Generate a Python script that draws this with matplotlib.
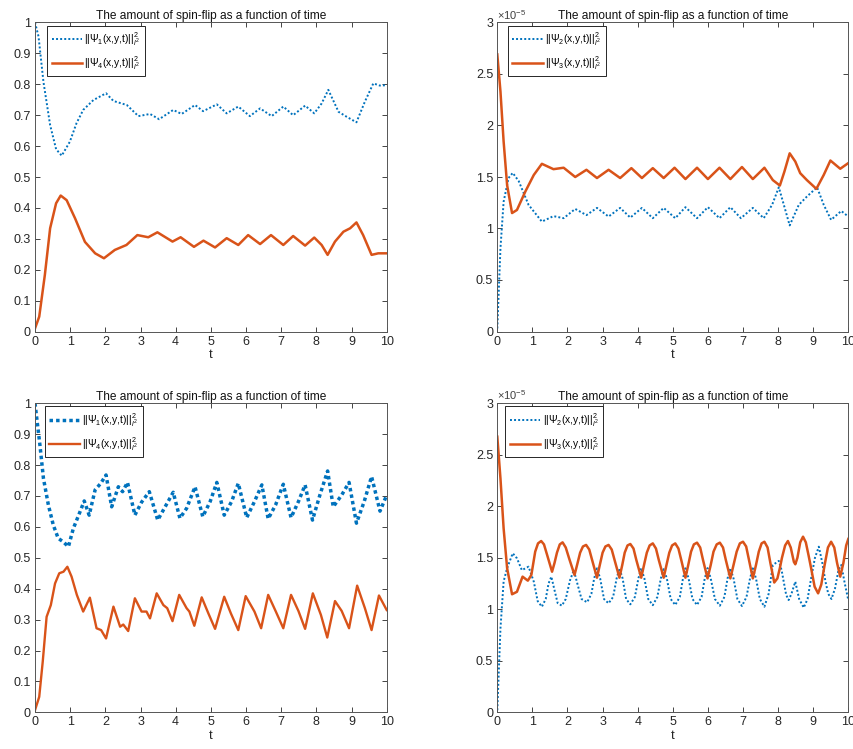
import matplotlib
matplotlib.use("Agg")
import matplotlib.pyplot as plt
from matplotlib.ticker import FuncFormatter
import numpy as np

plt.rcParams['font.family'] = ['Liberation Sans', 'DejaVu Sans']
plt.rcParams['mathtext.fontset'] = 'custom'
plt.rcParams['mathtext.rm'] = 'Liberation Sans'
plt.rcParams['mathtext.it'] = 'Liberation Sans:italic'
plt.rcParams['mathtext.bf'] = 'Liberation Sans:bold'

BLUE = '#0072BD'
ORANGE = '#D95319'
TITLE = 'The amount of spin-flip as a function of time'

# ---- panel A (top left): psi1 / psi4 ----
t_a1 = [0, 0.1, 0.24, 0.43, 0.6, 0.76, 0.99, 1.18, 1.37, 1.66, 2.02, 2.23, 2.61, 2.94, 3.27, 3.53,
        3.93, 4.17, 4.55, 4.78, 5.17, 5.45, 5.78, 6.11, 6.4, 6.73, 7.06, 7.34, 7.68, 7.94, 8.15,
        8.34, 8.63, 8.86, 9.14, 9.38, 9.62, 9.8, 10]
psi1_a = [1.0, 0.955, 0.808, 0.668, 0.59, 0.569, 0.614, 0.674, 0.717, 0.749, 0.771, 0.746, 0.733,
          0.697, 0.704, 0.687, 0.717, 0.704, 0.733, 0.713, 0.735, 0.706, 0.728, 0.697, 0.722, 0.697,
          0.728, 0.700, 0.731, 0.706, 0.738, 0.782, 0.711, 0.695, 0.677, 0.744, 0.803, 0.796, 0.797]
t_a4 = [0, 0.12, 0.28, 0.43, 0.6, 0.73, 0.9, 1.14, 1.42, 1.71, 1.96, 2.27, 2.6, 2.91, 3.22, 3.48,
        3.91, 4.14, 4.52, 4.79, 5.12, 5.45, 5.78, 6.06, 6.4, 6.71, 7.06, 7.34, 7.68, 7.94, 8.15,
        8.32, 8.53, 8.77, 8.96, 9.14, 9.33, 9.57, 9.76, 10]
psi4_a = [0.01, 0.048, 0.183, 0.334, 0.415, 0.44, 0.425, 0.366, 0.29, 0.253, 0.237, 0.264, 0.28,
          0.312, 0.305, 0.321, 0.291, 0.305, 0.274, 0.294, 0.272, 0.302, 0.28, 0.312, 0.283, 0.312,
          0.28, 0.309, 0.278, 0.304, 0.28, 0.248, 0.291, 0.323, 0.334, 0.353, 0.312, 0.248, 0.253, 0.253]

# ---- panel B (top right): psi2 / psi3, in units of 1e-5 ----
t_b2 = [0, 0.09, 0.18, 0.32, 0.44, 0.61, 0.89, 1.27, 1.6, 1.89, 2.22, 2.54, 2.84, 3.17, 3.5, 3.79,
        4.12, 4.43, 4.74, 5.07, 5.36, 5.69, 6.0, 6.33, 6.64, 6.94, 7.28, 7.59, 7.83, 8.02, 8.18,
        8.33, 8.59, 8.82, 9.11, 9.3, 9.51, 9.8, 10]
psi2_b = [0.03, 0.81, 1.26, 1.49, 1.54, 1.46, 1.23, 1.067, 1.12, 1.1, 1.19, 1.13, 1.2, 1.116, 1.2,
          1.106, 1.2, 1.1, 1.2, 1.1, 1.207, 1.1, 1.207, 1.1, 1.207, 1.1, 1.2, 1.1, 1.23, 1.4, 1.21,
          1.03, 1.23, 1.31, 1.4, 1.23, 1.084, 1.17, 1.116]
t_b3 = [0, 0.09, 0.18, 0.28, 0.42, 0.56, 0.8, 1.04, 1.27, 1.6, 1.89, 2.22, 2.54, 2.84, 3.17, 3.5,
        3.82, 4.12, 4.43, 4.74, 5.05, 5.36, 5.69, 6.0, 6.33, 6.64, 6.97, 7.28, 7.61, 7.85, 8.05,
        8.18, 8.33, 8.49, 8.63, 8.82, 9.09, 9.3, 9.49, 9.77, 10]
psi3_b = [2.69, 2.33, 1.845, 1.42, 1.15, 1.18, 1.36, 1.52, 1.628, 1.576, 1.59, 1.5, 1.57, 1.49,
          1.57, 1.49, 1.586, 1.49, 1.586, 1.49, 1.59, 1.48, 1.59, 1.48, 1.59, 1.48, 1.597, 1.48,
          1.59, 1.47, 1.417, 1.553, 1.73, 1.65, 1.537, 1.47, 1.385, 1.52, 1.66, 1.58, 1.635]

# ---- panel C (bottom left): psi1 / psi4 ----
t_c1 = [0, 0.14, 0.24, 0.38, 0.52, 0.66, 0.8, 0.95, 1.09, 1.28, 1.4, 1.54, 1.71, 1.87, 2.02, 2.18,
        2.37, 2.49, 2.63, 2.84, 3.03, 3.25, 3.49, 3.7, 3.93, 4.12, 4.31, 4.55, 4.77, 4.98, 5.17,
        5.38, 5.59, 5.78, 6.02, 6.24, 6.45, 6.63, 6.84, 7.06, 7.28, 7.49, 7.68, 7.89, 8.1, 8.32,
        8.48, 8.72, 8.93, 9.14, 9.36, 9.57, 9.81, 10]
psi1_c = [1.0, 0.865, 0.757, 0.671, 0.606, 0.563, 0.552, 0.536, 0.595, 0.649, 0.684, 0.638, 0.72,
          0.741, 0.768, 0.665, 0.73, 0.714, 0.744, 0.638, 0.68, 0.714, 0.622, 0.665, 0.712, 0.628,
          0.66, 0.73, 0.633, 0.682, 0.744, 0.638, 0.682, 0.741, 0.63, 0.682, 0.736, 0.626, 0.671,
          0.738, 0.63, 0.682, 0.736, 0.622, 0.703, 0.781, 0.665, 0.703, 0.744, 0.612, 0.682, 0.763,
          0.651, 0.703]
t_c4 = [0, 0.12, 0.22, 0.33, 0.45, 0.57, 0.69, 0.81, 0.92, 1.04, 1.19, 1.37, 1.56, 1.75, 1.88,
        2.02, 2.23, 2.42, 2.51, 2.65, 2.84, 3.03, 3.17, 3.27, 3.46, 3.65, 3.76, 3.91, 4.1, 4.31,
        4.39, 4.53, 4.74, 4.93, 5.12, 5.38, 5.57, 5.78, 5.99, 6.24, 6.43, 6.63, 6.84, 7.06, 7.28,
        7.49, 7.68, 7.9, 8.13, 8.31, 8.53, 8.72, 8.93, 9.16, 9.38, 9.57, 9.78, 10]
psi4_c = [0.007, 0.05, 0.164, 0.309, 0.347, 0.417, 0.45, 0.455, 0.471, 0.439, 0.38, 0.326, 0.371,
          0.272, 0.266, 0.239, 0.342, 0.277, 0.284, 0.263, 0.369, 0.326, 0.326, 0.304, 0.385,
          0.347, 0.337, 0.295, 0.38, 0.337, 0.326, 0.28, 0.372, 0.32, 0.27, 0.374, 0.32, 0.266,
          0.376, 0.326, 0.272, 0.38, 0.328, 0.272, 0.38, 0.328, 0.27, 0.385, 0.315, 0.242, 0.36,
          0.328, 0.272, 0.41, 0.337, 0.266, 0.378, 0.331]

# ---- panel D (bottom right): psi2 / psi3, in units of 1e-5 ----
t_d2 = [0, 0.09, 0.18, 0.28, 0.44, 0.56, 0.7, 0.89, 1.04, 1.15, 1.27, 1.38, 1.46, 1.54, 1.62, 1.72,
        1.84, 1.95, 2.07, 2.18, 2.28, 2.4, 2.56, 2.68, 2.76, 2.84, 2.93, 3.04, 3.17, 3.3, 3.4, 3.48,
        3.57, 3.67, 3.79, 3.92, 4.02, 4.1, 4.19, 4.3, 4.43, 4.56, 4.66, 4.74, 4.83, 4.94, 5.07,
        5.2, 5.29, 5.36, 5.45, 5.56, 5.69, 5.82, 5.91, 5.99, 6.08, 6.2, 6.34, 6.47, 6.56, 6.64,
        6.73, 6.84, 6.97, 7.1, 7.2, 7.28, 7.37, 7.48, 7.61, 7.73, 7.85, 8.02, 8.1, 8.16, 8.23, 8.3,
        8.38, 8.49, 8.6, 8.73, 8.84, 8.94, 9.05, 9.16, 9.26, 9.35, 9.43, 9.52, 9.62, 9.72, 9.8,
        9.9, 10]
psi2_d = [0.02, 0.815, 1.27, 1.4, 1.544, 1.495, 1.38, 1.414, 1.268, 1.08, 1.025, 1.1, 1.25, 1.317,
          1.2, 1.06, 1.035, 1.1, 1.28, 1.38, 1.25, 1.1, 1.068, 1.15, 1.3, 1.398, 1.3, 1.1, 1.058,
          1.12, 1.3, 1.398, 1.3, 1.1, 1.048, 1.12, 1.3, 1.398, 1.3, 1.1, 1.04, 1.12, 1.3, 1.39,
          1.3, 1.1, 1.042, 1.12, 1.3, 1.398, 1.3, 1.1, 1.042, 1.12, 1.3, 1.4, 1.3, 1.1, 1.035,
          1.12, 1.3, 1.398, 1.3, 1.1, 1.032, 1.12, 1.3, 1.398, 1.3, 1.1, 1.025, 1.15, 1.43, 1.47,
          1.38, 1.268, 1.14, 1.09, 1.15, 1.268, 1.1, 1.016, 1.1, 1.3, 1.5, 1.608, 1.45, 1.268,
          1.15, 1.1, 1.2, 1.38, 1.43, 1.25, 1.09]
t_d3 = [0, 0.09, 0.18, 0.28, 0.42, 0.56, 0.72, 0.87, 0.97, 1.08, 1.16, 1.25, 1.33, 1.42, 1.56,
        1.63, 1.7, 1.78, 1.86, 1.95, 2.05, 2.2, 2.28, 2.36, 2.44, 2.53, 2.62, 2.7, 2.84, 2.92, 3.0,
        3.08, 3.17, 3.26, 3.34, 3.48, 3.56, 3.63, 3.71, 3.79, 3.88, 3.96, 4.1, 4.18, 4.26, 4.34,
        4.43, 4.52, 4.6, 4.74, 4.82, 4.9, 4.98, 5.07, 5.16, 5.24, 5.36, 5.44, 5.52, 5.6, 5.69,
        5.78, 5.86, 5.99, 6.08, 6.16, 6.25, 6.34, 6.43, 6.51, 6.64, 6.73, 6.82, 6.91, 7.0, 7.09,
        7.17, 7.28, 7.37, 7.45, 7.53, 7.61, 7.7, 7.78, 7.89, 7.98, 8.05, 8.11, 8.2, 8.28, 8.36,
        8.45, 8.49, 8.55, 8.63, 8.71, 8.79, 8.87, 8.94, 9.04, 9.14, 9.23, 9.32, 9.42, 9.51, 9.6,
        9.68, 9.77, 9.86, 9.94, 10]
psi3_d = [2.676, 2.27, 1.786, 1.398, 1.146, 1.17, 1.317, 1.278, 1.333, 1.56, 1.64, 1.663, 1.63,
          1.527, 1.365, 1.45, 1.55, 1.63, 1.65, 1.6, 1.49, 1.333, 1.44, 1.55, 1.61, 1.625, 1.58,
          1.48, 1.307, 1.43, 1.55, 1.61, 1.625, 1.58, 1.48, 1.307, 1.43, 1.55, 1.62, 1.634, 1.59,
          1.48, 1.307, 1.43, 1.55, 1.62, 1.64, 1.59, 1.48, 1.307, 1.43, 1.55, 1.62, 1.64, 1.59,
          1.48, 1.307, 1.43, 1.56, 1.63, 1.647, 1.6, 1.48, 1.3, 1.43, 1.56, 1.63, 1.647, 1.6, 1.48,
          1.3, 1.43, 1.56, 1.64, 1.656, 1.61, 1.48, 1.3, 1.43, 1.56, 1.64, 1.656, 1.6, 1.45, 1.26,
          1.3, 1.4, 1.5, 1.62, 1.663, 1.6, 1.46, 1.437, 1.5, 1.65, 1.705, 1.65, 1.52, 1.4, 1.22,
          1.155, 1.24, 1.42, 1.6, 1.656, 1.6, 1.45, 1.317, 1.45, 1.62, 1.683]

SCALE = 1e-5


def lbl(k):
    return r'$||\Psi_%d\mathrm{(x{,}y{,}t)}||_{l^2}^{2}$' % k


def setup_axes(ax, ymax, ystep, scaled):
    ax.set_xlim(0, 10)
    ax.set_ylim(0, ymax)
    ax.set_xticks(np.arange(0, 11, 1))
    ax.set_yticks(np.arange(0, ymax + ystep / 2, ystep))
    if scaled:
        ax.yaxis.set_major_formatter(FuncFormatter(lambda v, _: f'{v / SCALE:g}'))
        ax.text(0.0, 1.003, r'$\times10^{-5}$', transform=ax.transAxes, ha='left', va='bottom',
                fontsize=8, color='#404040')
    else:
        ax.yaxis.set_major_formatter(FuncFormatter(lambda v, _: f'{v:g}'))
    ax.tick_params(direction='in', length=3.5, width=0.6, top=True, right=True,
                   labelsize=9, colors='#262626', pad=3)
    for s in ax.spines.values():
        s.set_color('#555555')
        s.set_linewidth(0.7)
    ax.set_title(TITLE, fontsize=8.6, pad=2.5, color='#111111')
    ax.set_xlabel('t', fontsize=9.5, labelpad=1, color='#262626')


def add_legend(ax, x0):
    leg = ax.legend(loc='upper left', bbox_to_anchor=(x0, 0.99), borderaxespad=0,
                    fontsize=7.4, handlelength=3.0, handletextpad=0.2, labelspacing=0.6,
                    borderpad=0.45, fancybox=False, framealpha=1)
    leg.get_frame().set_edgecolor('#262626')
    leg.get_frame().set_linewidth(0.7)


fig = plt.figure(figsize=(8.54, 7.49), dpi=100)
W, H = 854, 749
pos_top = 1 - 331.5 / H
pos_bot = 1 - 712.3 / H
hgt = 309 / H
ax_a = fig.add_axes([35 / W, pos_top, 351.7 / W, hgt])
ax_b = fig.add_axes([497.3 / W, pos_top, 351 / W, hgt])
ax_c = fig.add_axes([35 / W, pos_bot, 351.7 / W, hgt])
ax_d = fig.add_axes([497.3 / W, pos_bot, 351 / W, hgt])

thin_dot = (0, (1, 1.1))

# A
ax_a.plot(t_a1, psi1_a, color=BLUE, ls=thin_dot, lw=1.4, label=lbl(1))
ax_a.plot(t_a4, psi4_a, '-', color=ORANGE, lw=1.8, label=lbl(4))
setup_axes(ax_a, 1, 0.1, False)
add_legend(ax_a, 0.034)

# B
ax_b.plot(t_b2, np.array(psi2_b) * SCALE, color=BLUE, ls=thin_dot, lw=1.4, label=lbl(2))
ax_b.plot(t_b3, np.array(psi3_b) * SCALE, '-', color=ORANGE, lw=1.8, label=lbl(3))
setup_axes(ax_b, 3 * SCALE, 0.5 * SCALE, True)
add_legend(ax_b, 0.03)

# C
ax_c.plot(t_c1, psi1_c, color=BLUE, ls=(0, (1, 0.9)), lw=2.5, label=lbl(1))
ax_c.plot(t_c4, psi4_c, '-', color=ORANGE, lw=1.7, label=lbl(4))
setup_axes(ax_c, 1, 0.1, False)
add_legend(ax_c, 0.028)

# D
ax_d.plot(t_d2, np.array(psi2_d) * SCALE, color=BLUE, ls=thin_dot, lw=1.4, label=lbl(2))
ax_d.plot(t_d3, np.array(psi3_d) * SCALE, '-', color=ORANGE, lw=1.8, label=lbl(3))
setup_axes(ax_d, 3 * SCALE, 0.5 * SCALE, True)
add_legend(ax_d, 0.022)

fig.savefig('out.png', dpi=100, facecolor='white')
